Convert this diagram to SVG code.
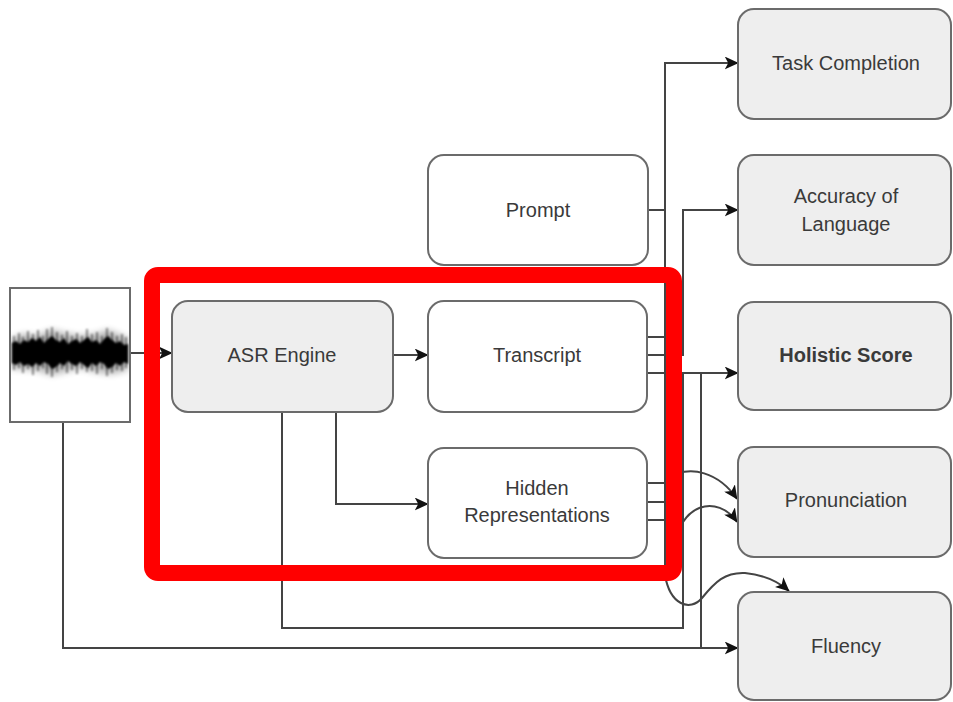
<svg xmlns="http://www.w3.org/2000/svg" width="953" height="702" viewBox="0 0 953 702">
  <style>
    .box { stroke: #6b6b6b; stroke-width: 2; }
    .grey { fill: #eeeeee; }
    .white { fill: #ffffff; }
    .label { font-family: "Liberation Sans", Arial, sans-serif; font-size: 20px; fill: #3a3a3a; text-anchor: middle; }
    .bold { font-weight: bold; }
    .edge { fill: none; stroke: #444444; stroke-width: 2; }
    .arrow { marker-end: url(#head); }
    .spike { stroke: #000000; stroke-width: 1.6; opacity: 0.55; }
  </style>
  <defs>
    <marker id="head" viewBox="0 0 10 10" refX="9.5" refY="5" markerWidth="14" markerHeight="13" markerUnits="userSpaceOnUse" orient="auto" preserveAspectRatio="none">
      <path d="M0,0 L10,5 L0,10 L2.5,5 z" fill="#111111"/>
    </marker>
    <filter id="soft" x="-10%" y="-50%" width="120%" height="200%">
      <feGaussianBlur stdDeviation="1.2"/>
    </filter>
    <filter id="haze" x="-10%" y="-80%" width="120%" height="260%">
      <feGaussianBlur stdDeviation="3.5"/>
    </filter>
    <clipPath id="waveClip">
      <rect x="11" y="289" width="118" height="132"/>
    </clipPath>
  </defs>

  <rect width="953" height="702" fill="#ffffff"/>

  <!-- connectors -->
  <g id="connectors">
    <!-- audio into ASR -->
    <path class="edge arrow" d="M130,353 L172,353"/>
    <!-- audio down to Fluency -->
    <path class="edge arrow" d="M63,423 L63,648 L738,648"/>
    <!-- riser to Holistic Score -->
    <path class="edge" d="M701,648 L701,373"/>
    <!-- ASR to Transcript -->
    <path class="edge arrow" d="M393,355 L428,355"/>
    <!-- ASR to Hidden Representations -->
    <path class="edge arrow" d="M336,412 L336,504 L428,504"/>
    <!-- ASR down and around to Holistic Score -->
    <path class="edge" d="M282,412 L282,628 L683,628 L683,373"/>
    <!-- Prompt / Transcript to Task Completion -->
    <path class="edge" d="M648,210 L665,210"/>
    <path class="edge" d="M647,337 L665,337"/>
    <path class="edge arrow" d="M665,578 L665,63 L738,63"/>
    <!-- Transcript to Accuracy of Language -->
    <path class="edge arrow" d="M647,355 L683,355 L683,210 L738,210"/>
    <!-- Transcript to Holistic Score -->
    <path class="edge arrow" d="M647,373 L738,373"/>
    <!-- Hidden Representations outputs -->
    <path class="edge" d="M647,483 L665,483"/>
    <path class="edge" d="M647,502 L665,502"/>
    <path class="edge" d="M647,520 L665,520"/>
    <path class="edge arrow" d="M666,480 C690,462 720,474 737,499"/>
    <path class="edge arrow" d="M674,552 C678,502 718,494 737,522"/>
    <path class="edge arrow" d="M665,575 C670,605 690,612 702,598 C715,582 725,572 745,573 C765,575 780,583 789,591"/>
  </g>

  <!-- waveform input -->
  <g id="audio">
    <rect class="box white" x="10" y="288" width="120" height="134" stroke="#9a9a9a"/>
    <g clip-path="url(#waveClip)">
      <path filter="url(#haze)" fill="#000000" opacity="0.3" d="M12,338 L24,334 L36,336 L52,330 L64,333 L80,336 L96,334 L108,330 L128,338 L128,370 L112,374 L96,372 L80,368 L64,372 L52,375 L36,370 L20,369 L12,369 Z"/>
      <g filter="url(#soft)">
        <line class="spike" x1="14" y1="336" x2="14" y2="370"/>
        <line class="spike" x1="19" y1="333" x2="19" y2="368"/>
        <line class="spike" x1="23" y1="337" x2="23" y2="373"/>
        <line class="spike" x1="28" y1="331" x2="28" y2="369"/>
        <line class="spike" x1="33" y1="334" x2="33" y2="375"/>
        <line class="spike" x1="38" y1="330" x2="38" y2="371"/>
        <line class="spike" x1="43" y1="336" x2="43" y2="368"/>
        <line class="spike" x1="47" y1="329" x2="47" y2="374"/>
        <line class="spike" x1="52" y1="327" x2="52" y2="377"/>
        <line class="spike" x1="57" y1="332" x2="57" y2="372"/>
        <line class="spike" x1="62" y1="335" x2="62" y2="369"/>
        <line class="spike" x1="67" y1="331" x2="67" y2="373"/>
        <line class="spike" x1="72" y1="336" x2="72" y2="370"/>
        <line class="spike" x1="77" y1="333" x2="77" y2="374"/>
        <line class="spike" x1="82" y1="336" x2="82" y2="369"/>
        <line class="spike" x1="87" y1="329" x2="87" y2="372"/>
        <line class="spike" x1="92" y1="334" x2="92" y2="371"/>
        <line class="spike" x1="97" y1="332" x2="97" y2="374"/>
        <line class="spike" x1="102" y1="336" x2="102" y2="369"/>
        <line class="spike" x1="107" y1="328" x2="107" y2="376"/>
        <line class="spike" x1="112" y1="332" x2="112" y2="373"/>
        <line class="spike" x1="117" y1="336" x2="117" y2="370"/>
        <line class="spike" x1="122" y1="334" x2="122" y2="371"/>
        <line class="spike" x1="126" y1="337" x2="126" y2="368"/>
      </g>
      <path filter="url(#soft)" fill="#050505" d="M12,343 L16,341 L20,344 L24,340 L28,342 L32,338 L36,341 L40,337 L44,343 L48,339 L52,336 L56,340 L60,342 L64,338 L68,344 L72,341 L76,339 L80,343 L84,340 L88,337 L92,342 L96,340 L100,344 L104,339 L108,336 L112,340 L116,343 L120,341 L124,345 L128,344 L128,364 L124,362 L120,366 L116,363 L112,367 L108,369 L104,364 L100,362 L96,366 L92,363 L88,368 L84,365 L80,362 L76,366 L72,364 L68,361 L64,366 L60,363 L56,367 L52,369 L48,364 L44,362 L40,366 L36,363 L32,367 L28,364 L24,366 L20,362 L16,365 L12,363 Z"/>
    </g>
  </g>

  <!-- processing nodes -->
  <g id="asr-engine">
    <rect class="box grey" x="172" y="301" width="221" height="111" rx="16"/>
    <text class="label" x="282" y="362">ASR Engine</text>
  </g>
  <g id="prompt">
    <rect class="box white" x="428" y="155" width="220" height="110" rx="16"/>
    <text class="label" x="538" y="217">Prompt</text>
  </g>
  <g id="transcript">
    <rect class="box white" x="428" y="301" width="219" height="111" rx="16"/>
    <text class="label" x="537" y="362">Transcript</text>
  </g>
  <g id="hidden-representations">
    <rect class="box white" x="428" y="448" width="219" height="110" rx="16"/>
    <text class="label" x="537" y="495">Hidden</text>
    <text class="label" x="537" y="522">Representations</text>
  </g>

  <!-- score outputs -->
  <g id="task-completion">
    <rect class="box grey" x="738" y="9" width="213" height="110" rx="16"/>
    <text class="label" x="846" y="70">Task Completion</text>
  </g>
  <g id="accuracy-of-language">
    <rect class="box grey" x="738" y="155" width="213" height="110" rx="16"/>
    <text class="label" x="846" y="203">Accuracy of</text>
    <text class="label" x="846" y="231">Language</text>
  </g>
  <g id="holistic-score">
    <rect class="box grey" x="738" y="302" width="213" height="108" rx="16"/>
    <text class="label bold" x="846" y="362">Holistic Score</text>
  </g>
  <g id="pronunciation">
    <rect class="box grey" x="738" y="447" width="213" height="110" rx="16"/>
    <text class="label" x="846" y="507">Pronunciation</text>
  </g>
  <g id="fluency">
    <rect class="box grey" x="738" y="592" width="213" height="108" rx="16"/>
    <text class="label" x="846" y="653">Fluency</text>
  </g>

  <!-- highlight frame around the speech recognition stage -->
  <g id="highlight">
    <rect x="152" y="275" width="522" height="298" rx="6" fill="none" stroke="#ff0000" stroke-width="16"/>
  </g>
</svg>
